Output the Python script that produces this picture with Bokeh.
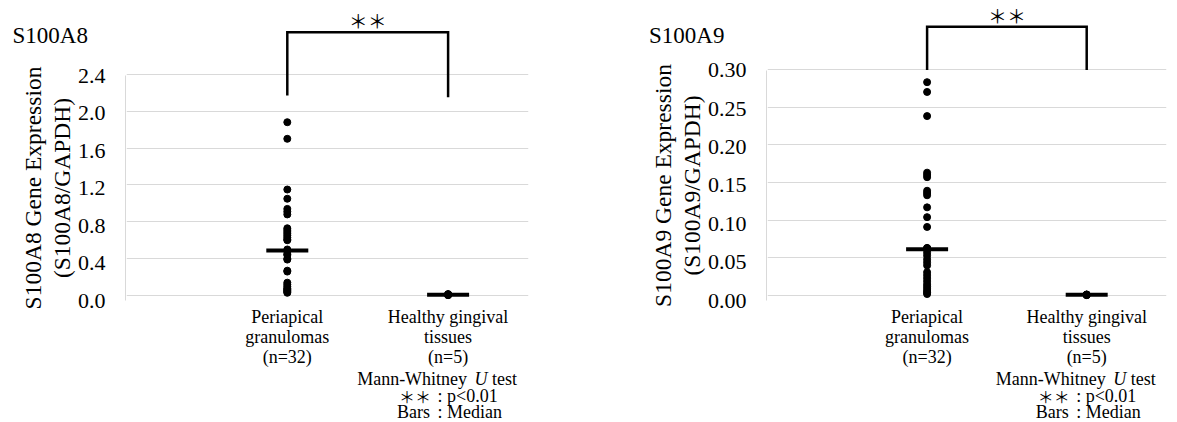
import numpy as np
from bokeh.plotting import figure
from bokeh.layouts import row, column
from bokeh.models import FixedTicker, Range1d, NumeralTickFormatter, Grid
from bokeh.core.properties import value
from bokeh.embed import file_html
from bokeh.resources import INLINE

# ---------------- data ----------------
categories = ["Periapical\ngranulomas\n(n=32)", "Healthy gingival\ntissues\n(n=5)"]
category_x = [1, 2]

s100a8_periapical = [1.88, 1.70, 1.15, 1.05, 0.94, 0.91, 0.88, 0.73, 0.71, 0.69, 0.67,
                     0.65, 0.63, 0.61, 0.60, 0.50, 0.48, 0.45, 0.44, 0.40, 0.39, 0.27,
                     0.26, 0.14, 0.12, 0.10, 0.08, 0.07, 0.06, 0.05, 0.04, 0.03]
s100a8_healthy = [0.004, 0.007, 0.010, 0.013, 0.016]

s100a9_periapical = [0.283, 0.270, 0.238, 0.163, 0.160, 0.157, 0.139, 0.136, 0.133,
                     0.117, 0.104, 0.091, 0.063, 0.063, 0.062, 0.062, 0.061, 0.057,
                     0.053, 0.048, 0.044, 0.040, 0.031, 0.027, 0.023, 0.019, 0.015,
                     0.012, 0.009, 0.006, 0.004, 0.002]
s100a9_healthy = [0.0005, 0.0008, 0.0010, 0.0012, 0.0015]

s100a8_ticks = [0.0, 0.4, 0.8, 1.2, 1.6, 2.0, 2.4]
s100a9_ticks = [0.00, 0.05, 0.10, 0.15, 0.20, 0.25, 0.30]

titles = ["S100A8", "S100A9"]
ylabels = ["S100A8 Gene Expression\n(S100A8/GAPDH)", "S100A9 Gene Expression\n(S100A9/GAPDH)"]
significance = "＊＊"
note_test = ["Mann-Whitney", "U", "test"]
note_keys = ["＊＊", "Bars"]
note_vals = ["p<0.01", "Median"]

FONT = "Liberation Serif"
GRID = "#d9d9d9"
H = 422
FRAME_BOTTOM = 304   # page row of the bottom of the data frame
ZERO_PX = 300        # page row where y = 0 sits
MAIN_H = 370         # height of the main panel (frame + category labels)
FIG_KW = dict(output_backend="svg", toolbar_location=None, outline_line_color=None,
              background_fill_color="white", border_fill_color="white")


def make_group(title, ylabel, per, healthy, ticks, fmt, axis_w, main_w, br, ppu,
               legs, top, star_y, title_h, axis_top, title_x):
    y_lo = -(FRAME_BOTTOM - ZERO_PX) / ppu

    # ---- title tile (its frame lines up with the y axis tile) ----
    t = figure(width=axis_w, height=title_h, x_range=Range1d(0, 1), y_range=Range1d(0, 1),
               x_axis_location=None, y_axis_location=None,
               min_border_left=axis_w - 1, min_border_right=0, min_border_top=47,
               min_border_bottom=0, **FIG_KW)
    t.grid.visible = False
    t.title.text = title
    t.title.align = "left"
    t.title.offset = title_x - (axis_w - 1)
    t.title.vertical_align = "bottom"
    t.title.standoff = 0
    t.title.text_font = FONT
    t.title.text_font_size = "23px"
    t.title.text_font_style = "normal"
    t.title.text_color = "black"

    # ---- y axis tile ----
    ah = H - title_h
    a = figure(width=axis_w, height=ah, x_range=Range1d(0, 1),
               y_range=Range1d(y_lo, (ZERO_PX - axis_top) / ppu),
               x_axis_location=None, min_border_left=axis_w - 1, min_border_right=0,
               min_border_top=axis_top - title_h, min_border_bottom=H - FRAME_BOTTOM,
               **FIG_KW)
    a.grid.visible = False
    ax = a.yaxis[0]
    ax.ticker = FixedTicker(ticks=ticks)
    ax.bounds = (ticks[0], ticks[-1])
    ax.formatter = NumeralTickFormatter(format=fmt)
    ax.axis_line_color = GRID
    ax.major_tick_line_color = None
    ax.minor_tick_line_color = None
    ax.major_label_standoff = 14
    ax.major_label_text_font = FONT
    ax.major_label_text_font_size = "22px"
    ax.major_label_text_color = "black"
    ax.axis_label = ylabel
    ax.axis_label_text_font = FONT
    ax.axis_label_text_font_size = "23.5px"
    ax.axis_label_text_font_style = "normal"
    ax.axis_label_text_color = "black"
    ax.axis_label_text_line_height = 1.1
    ax.axis_label_standoff = 0

    # ---- main data panel ----
    p = figure(width=main_w, height=MAIN_H, x_range=Range1d(0, 2.5),
               y_range=Range1d(y_lo, ZERO_PX / ppu), y_axis_location=None,
               min_border_left=0, min_border_right=br, min_border_top=0,
               min_border_bottom=MAIN_H - FRAME_BOTTOM, **FIG_KW)
    p.grid.visible = False
    p.add_layout(Grid(dimension=1, ticker=FixedTicker(ticks=ticks),
                      grid_line_color=GRID, grid_line_width=1))
    xa = p.xaxis[0]
    xa.ticker = FixedTicker(ticks=category_x)
    xa.major_label_overrides = {category_x[i]: categories[i] for i in range(2)}
    xa.axis_line_color = None
    xa.major_tick_line_color = None
    xa.minor_tick_line_color = None
    xa.major_label_standoff = 1
    xa.major_label_text_font = FONT
    xa.major_label_text_font_size = "18px"
    xa.major_label_text_color = "black"
    xa.major_label_text_line_height = 1.02

    p.scatter(x=[category_x[0]] * len(per), y=per, size=7, color="black")
    p.scatter(x=[category_x[1]] * len(healthy), y=healthy, size=7, color="black")
    p.scatter(x=category_x, y=[float(np.median(per)), float(np.median(healthy))],
              marker="dash", size=42, line_width=4, color="black")
    p.line(x=[category_x[0], category_x[0], category_x[1], category_x[1]],
           y=[legs[0], top, top, legs[1]], line_width=2.5, color="black",
           line_join="miter")
    p.text(x=[(category_x[0] + category_x[1]) / 2], y=[star_y], text=[significance],
           text_align="center", text_baseline="middle",
           text_font=value("Noto Sans CJK JP"), text_font_size="19px", text_color="black")

    # ---- notes tile under the categories ----
    nh = H - MAIN_H
    n = figure(width=main_w, height=nh, x_range=p.x_range, y_range=Range1d(0, nh),
               x_axis_location=None, y_axis_location=None, min_border_left=0,
               min_border_right=br, min_border_top=0, min_border_bottom=0, **FIG_KW)
    n.grid.visible = False
    rows = [H - 378, H - 395, H - 411]
    kw = dict(text_baseline="middle", text_font=value(FONT), text_font_size="18px",
              text_color="black")
    xc = category_x[1]
    n.text(x=[xc], y=[rows[0]], text=[note_test[0]], x_offset=19, text_align="right", **kw)
    n.text(x=[xc], y=[rows[0]], text=[note_test[1]], x_offset=33, text_align="center",
           text_font_style="italic", **kw)
    n.text(x=[xc], y=[rows[0]], text=[note_test[2]], x_offset=44, text_align="left", **kw)
    # "＊＊ : p<0.01"
    n.text(x=[xc], y=[rows[1]], text=[note_keys[0]], x_offset=-17, text_align="right",
           text_baseline="middle", text_font=value("Noto Sans CJK JP"),
           text_font_size="16px", text_color="black")
    n.text(x=[xc], y=[rows[2]], text=[note_keys[1]], x_offset=-18, text_align="right", **kw)
    n.text(x=[xc, xc], y=rows[1:], text=[":", ":"], x_offset=-8, text_align="center", **kw)
    n.text(x=[xc, xc], y=rows[1:], text=note_vals, x_offset=-1, text_align="left", **kw)

    return row(column(t, a), column(p, n))


g1 = make_group(titles[0], ylabels[0], s100a8_periapical, s100a8_healthy, s100a8_ticks,
                "0.0", 126, 514, 112, 93.75, (2.169, 2.151), 2.855, 2.978, 60, 71, 12)
g2 = make_group(titles[1], ylabels[1], s100a9_periapical, s100a9_healthy, s100a9_ticks,
                "0.00", 127, 410, 11, 766.7, (0.299, 0.299), 0.3565, 0.3713, 55, 66, 8.5)

layout = row(g1, g2)
open("out.html", "w").write(file_html(layout, INLINE))
